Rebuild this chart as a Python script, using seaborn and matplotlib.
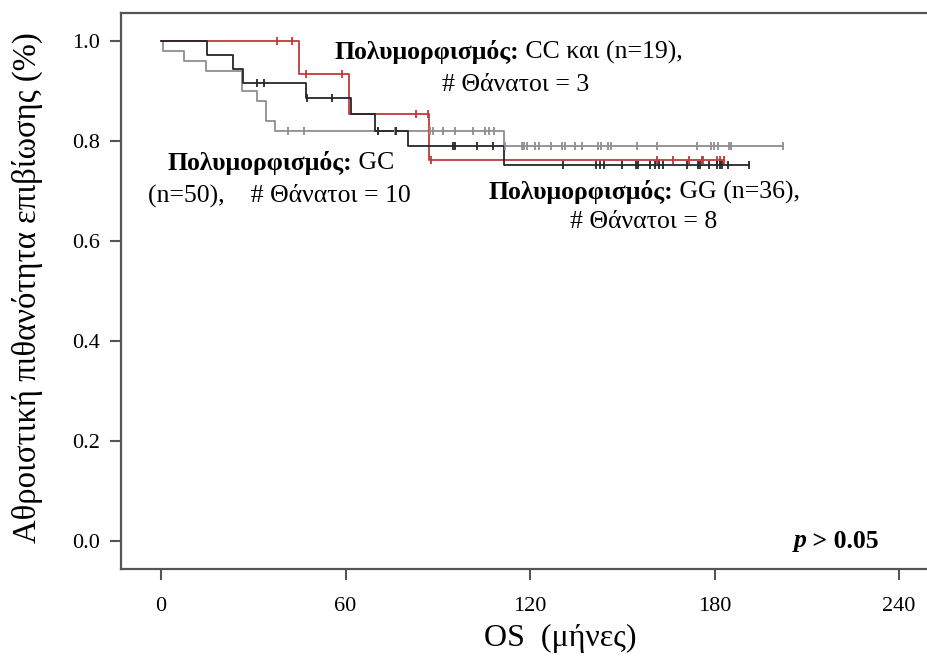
import numpy as np
import pandas as pd
import seaborn as sns
import matplotlib.pyplot as plt

# step points (time in months, survival proportion)
gc_times = [0, 0.5, 7.6, 14.6, 26.2, 31.1, 34.1, 37.1, 111.5]
gc_surv = [1.0, 0.98, 0.96, 0.94, 0.90, 0.88, 0.84, 0.82, 0.79]
gc_end = 202.3
gc_cens = [41.2, 46.6, 70.7, 76.1, 87.5, 88.6, 91.8, 95.6, 101.6, 105.2, 106.5, 108.3,
           111.9, 117.4, 118.0, 119.0, 121.6, 122.9, 126.8, 130.4, 131.4, 134.6, 136.9,
           142.1, 143.1, 145.4, 146.3, 154.8, 161.3, 174.3, 178.9, 179.8, 181.1, 184.7,
           185.4, 202.3]

cc_times = [0, 44.9, 61.2, 87.3]
cc_surv = [1.0, 0.935, 0.855, 0.763]
cc_end = 183.1
cc_cens = [37.6, 42.5, 47.2, 58.8, 82.9, 86.9, 87.8, 161.2, 166.6, 171.7, 175.8, 176.3,
           180.8, 181.8, 183.1]

gg_times = [0, 15.0, 23.5, 26.6, 47.2, 61.7, 69.6, 80.4, 111.5]
gg_surv = [1.0, 0.972, 0.944, 0.917, 0.887, 0.855, 0.82, 0.79, 0.752]
gg_end = 191.3
gg_cens = [31.3, 33.5, 47.6, 55.5, 70.6, 76.3, 95.1, 95.6, 102.7, 108.1, 130.8, 141.5,
           142.8, 144.1, 149.9, 154.5, 155.1, 159.0, 160.7, 162.0, 163.1, 171.0, 174.6,
           175.3, 178.2, 180.8, 181.8, 182.3, 184.5, 191.3]

groups = [
    ("GC", gc_times, gc_surv, gc_end, gc_cens, "#8f8f8f"),
    ("CC", cc_times, cc_surv, cc_end, cc_cens, "#c0393b"),
    ("GG", gg_times, gg_surv, gg_end, gg_cens, "#262626"),
]

sns.set_style("ticks")
plt.rcParams['font.family'] = ['Liberation Serif', 'DejaVu Serif']
plt.rcParams['text.color'] = 'black'

fig = plt.figure(figsize=(9.28, 6.64), dpi=100)
ax = fig.add_axes([121 / 928, 1 - 569 / 664, 1 - 121 / 928, (569 - 13) / 664])

for name, t, s, end, cens, col in groups:
    curve = pd.DataFrame({"t": list(t) + [end], "s": list(s) + [s[-1]]})
    sns.lineplot(data=curve, x="t", y="s", drawstyle="steps-post", color=col,
                 linewidth=1.3, sort=False, ax=ax)
    idx = np.searchsorted(t, cens, side="right") - 1
    marks = pd.DataFrame({"t": cens, "s": np.array(s)[idx]})
    sns.scatterplot(data=marks, x="t", y="s", marker="|", s=40, linewidth=1.3,
                    color=col, ax=ax, zorder=3)

ax.set_xlim(-13, 249.4)
ax.set_ylim(-0.056, 1.056)
ax.set_xticks([0, 60, 120, 180, 240])
ax.set_yticks([0.0, 0.2, 0.4, 0.6, 0.8, 1.0])
ax.set_yticklabels(["0.0", "0.2", "0.4", "0.6", "0.8", "1.0"])
ax.tick_params(labelsize=16, length=8, width=1.5, color="#555555", labelcolor="black")
ax.tick_params(axis="x", pad=12)
ax.tick_params(axis="y", pad=7)
for side in ["left", "bottom", "top"]:
    ax.spines[side].set_color("#555555")
    ax.spines[side].set_linewidth(1.6)
ax.spines["right"].set_visible(False)

ax.set_xlabel("")
ax.set_ylabel("")
fig.text(560 / 928, 1 - 638 / 664, "OS  (μήνες)", fontsize=23, ha="center", va="center")
fig.text(27 / 928, 1 - 288 / 664, "Αθροιστική πιθανότητα επιβίωσης (%)", fontsize=23.5,
         rotation=90, ha="center", va="center")

fb = 18.5   # bold part
fn = 18.5   # normal part
# CC
ax.text(116.4, 0.978, "Πολυμορφισμός:", fontsize=fb, fontweight="bold", ha="right", va="center")
ax.text(116.4, 0.978, " CC και (n=19),", fontsize=fn, ha="left", va="center")
ax.text(115.4, 0.912, "# Θάνατοι = 3", fontsize=fn, ha="center", va="center")
# GC
ax.text(62.0, 0.756, "Πολυμορφισμός:", fontsize=fb, fontweight="bold", ha="right", va="center")
ax.text(62.0, 0.756, " GC", fontsize=fn, ha="left", va="center")
ax.text(38.4, 0.692, "(n=50),    # Θάνατοι = 10", fontsize=fn, ha="center", va="center")
# GG
ax.text(166.6, 0.698, "Πολυμορφισμός:", fontsize=fb, fontweight="bold", ha="right", va="center")
ax.text(166.6, 0.698, " GG (n=36),", fontsize=fn, ha="left", va="center")
ax.text(156.8, 0.638, "# Θάνατοι = 8", fontsize=fn, ha="center", va="center")
# p-value
ax.text(210.0, 0.0, "p", fontsize=18.5, fontweight="bold", style="italic", ha="right", va="center")
ax.text(209.8, 0.0, " > 0.05", fontsize=18.5, fontweight="bold", ha="left", va="center")

fig.savefig("out.png", dpi=100)
